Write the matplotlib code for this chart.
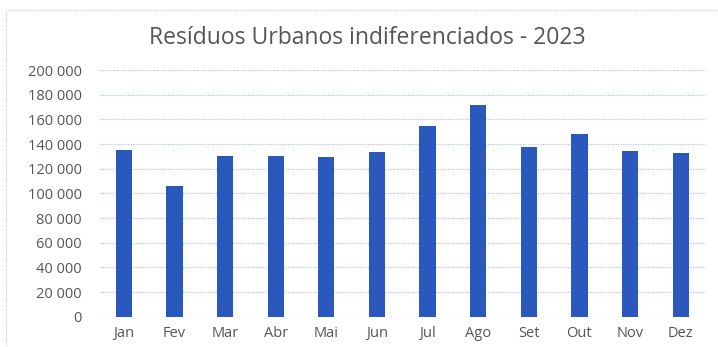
import matplotlib
matplotlib.use("Agg")
import matplotlib.pyplot as plt
from matplotlib.patches import Rectangle
from matplotlib.ticker import FuncFormatter

meses = ["Jan", "Fev", "Mar", "Abr", "Mai", "Jun", "Jul", "Ago", "Set", "Out", "Nov", "Dez"]
residuos = [135400, 105700, 129900, 129900, 129400, 133600,
            154400, 172000, 137500, 148300, 134000, 132400]
y_ticks = [0, 20000, 40000, 60000, 80000, 100000, 120000, 140000, 160000, 180000, 200000]

plt.rcParams["font.family"] = ["Open Sans", "DejaVu Sans"]

W, H = 718, 347
fig = plt.figure(figsize=(W / 100, H / 100), dpi=100)
ax = fig.add_axes([100 / W, (H - 316.7) / H, 606 / W, 246.7 / H])

ax.bar(range(len(meses)), residuos, width=0.32, color="#2b58bd", zorder=3)

ax.set_xlim(-0.47, 11.5)
ax.set_ylim(0, 200000)
ax.set_yticks(y_ticks)
ax.yaxis.set_major_formatter(FuncFormatter(lambda v, p: f"{int(v):,}".replace(",", " ")))
ax.set_xticks(range(len(meses)))
ax.set_xticklabels(meses)

ax.grid(axis="y", color="#b4c7e7", linestyle=(0, (1, 1)), linewidth=0.9, zorder=0)
for s in ax.spines.values():
    s.set_visible(False)
ax.tick_params(axis="both", length=0, labelsize=10.5, labelcolor="#555555")
ax.tick_params(axis="y", pad=13)
ax.tick_params(axis="x", pad=7)

fig.text(0.512, (H - 38) / H, "Resíduos Urbanos indiferenciados - 2023",
         ha="center", va="center", fontsize=16.5, color="#555555")

# dotted chart-area frame, only the top and left edges show
fig.patches.append(Rectangle((6 / W, -0.1), 1.2, (H - 10) / H + 0.1,
                             transform=fig.transFigure, fill=False,
                             edgecolor="#c5d3ee", linestyle=(0, (1, 1)), linewidth=0.9))

fig.savefig("out.png", dpi=100, facecolor="white")
